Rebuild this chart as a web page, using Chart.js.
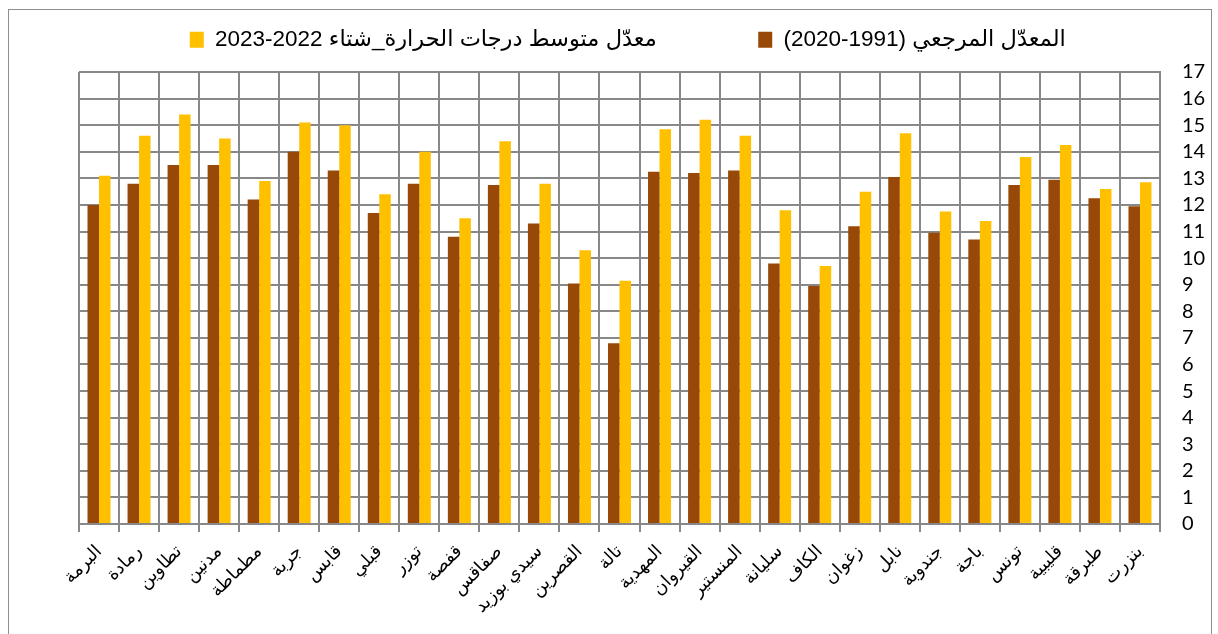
<!DOCTYPE html>
<html lang="ar">
<head>
<meta charset="utf-8">
<title>معدّل متوسط درجات الحرارة</title>
<script src="https://cdn.jsdelivr.net/npm/chart.js@4.4.1/dist/chart.umd.min.js"></script>
<style>
  html, body { margin: 0; padding: 0; background: #fff; }
  #wrap { position: relative; width: 1218px; height: 634px; overflow: hidden; }
  #frame { position: absolute; left: 8px; top: 9px; width: 1204px; height: 700px; border: 1.5px solid #8e8e8e; pointer-events: none; box-sizing: border-box; }
</style>
</head>
<body>
<div id="wrap">
  <canvas id="chart" width="1218" height="634"></canvas>
  <div id="frame"></div>
</div>
<script>
// stations, left to right as drawn
const stations = ['البرمة', 'رمادة', 'تطاوين', 'مدنين', 'مطماطة', 'جربة', 'قابس', 'قبلي', 'توزر', 'قفصة',
  'صفاقس', 'سيدي بوزيد', 'القصرين', 'تالة', 'المهدية', 'القيروان', 'المنستير', 'سليانة', 'الكاف',
  'زغوان', 'نابل', 'جندوبة', 'باجة', 'تونس', 'قليبية', 'طبرقة', 'بنزرت'];

// reference normal 1991-2020
const normal_1991_2020 = [12.0, 12.8, 13.5, 13.5, 12.2, 14.0, 13.3, 11.7, 12.8, 10.8,
  12.75, 11.3, 9.05, 6.8, 13.25, 13.2, 13.3, 9.8, 8.95,
  11.2, 13.05, 10.95, 10.7, 12.75, 12.95, 12.25, 11.95];

// winter 2022-2023 mean
const winter_2022_2023 = [13.1, 14.6, 15.4, 14.5, 12.9, 15.1, 15.0, 12.4, 14.0, 11.5,
  14.4, 12.8, 10.3, 9.15, 14.85, 15.2, 14.6, 11.8, 9.7,
  12.5, 14.7, 11.75, 11.4, 13.8, 14.25, 12.6, 12.85];

const seriesNames = ['المعدّل المرجعي (1991-2020)', 'معدّل متوسط درجات الحرارة_شتاء 2022-2023'];
const yMin = 0, yMax = 17, yStep = 1;

const arabicFont = 'Arial, "Liberation Sans", "DejaVu Sans", sans-serif';
const gridGray = '#888888';

// push the plot down a bit below the legend
const legendGap = {
  id: 'legendGap',
  afterInit(chart) {
    const fit = chart.legend.fit;
    chart.legend.fit = function () {
      fit.call(this);
      this.height += 11;
    };
  }
};

// empty legend entry, only used for spacing
function spacer(n) {
  return {
    text: ' '.repeat(n),
    fillStyle: 'rgba(0,0,0,0)',
    strokeStyle: 'rgba(0,0,0,0)',
    lineWidth: 0,
    hidden: false,
    datasetIndex: -1
  };
}

const ctx = document.getElementById('chart').getContext('2d');
const chart = new Chart(ctx, {
  type: 'bar',
  data: {
    labels: stations,
    datasets: [
      {
        label: seriesNames[0],
        data: normal_1991_2020,
        backgroundColor: '#984807',
        barPercentage: 1,
        categoryPercentage: 0.575
      },
      {
        label: seriesNames[1],
        data: winter_2022_2023,
        backgroundColor: '#FFC000',
        barPercentage: 1,
        categoryPercentage: 0.575
      }
    ]
  },
  options: {
    responsive: false,
    animation: false,
    layout: { padding: { top: 18.5, left: 79, right: 0, bottom: 0 } },
    plugins: {
      tooltip: { enabled: false },
      legend: {
        position: 'top',
        textDirection: 'rtl',
        onClick() {},
        labels: {
          color: '#000',
          font: { family: arabicFont, size: 22.5 },
          boxWidth: 14,
          boxHeight: 16,
          padding: 10,
          generateLabels(chart) {
            const items = Chart.defaults.plugins.legend.labels.generateLabels(chart);
            items.reverse(); // yellow on the left, brown on the right
            return [items[0], spacer(9), items[1], spacer(1)];
          }
        }
      }
    },
    scales: {
      x: {
        ticks: {
          autoSkip: false,
          maxRotation: 45,
          minRotation: 45,
          padding: 9,
          color: '#000',
          font: { family: arabicFont, size: 18 }
        },
        grid: { color: gridGray, lineWidth: 2, tickLength: 8, offset: true },
        border: { color: gridGray, width: 2 },
        afterFit(scale) { scale.height = 110; }
      },
      y: {
        position: 'right',
        min: yMin,
        max: yMax,
        ticks: {
          stepSize: yStep,
          autoSkip: false,
          padding: 22,
          color: '#000',
          font: { family: 'Lato, "Open Sans", sans-serif', size: 20 }
        },
        grid: { color: gridGray, lineWidth: 2, drawTicks: false },
        border: { color: gridGray, width: 2 },
        afterFit(scale) { scale.width = 58; }
      }
    }
  },
  plugins: [legendGap]
});
</script>
</body>
</html>
